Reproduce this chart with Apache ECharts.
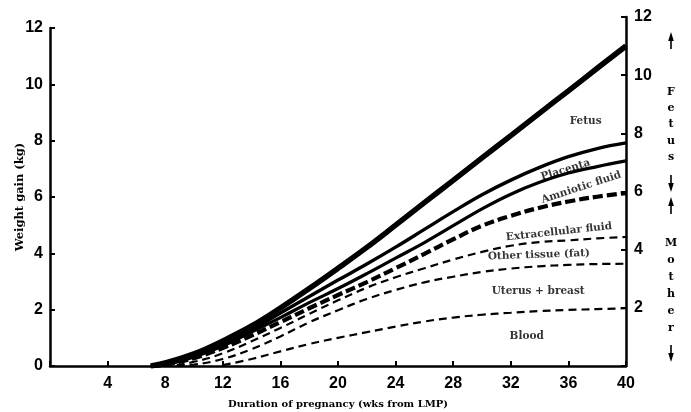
<!DOCTYPE html>
<html>
<head>
<meta charset="utf-8">
<script src="https://cdn.jsdelivr.net/npm/echarts@6/dist/echarts.min.js"></script>
<style>
html,body{margin:0;padding:0;background:#fff;}
#chart{width:691px;height:412px;}
</style>
</head>
<body>
<div id="chart"></div>
<script>
// ---- data (kg) ----
const weeks = [7, 8, 10, 12, 14, 16, 18, 20, 22, 24, 26, 28, 30, 32, 34, 36, 38, 40];
const fetus = [0, 0.11, 0.43, 0.89, 1.42, 2.06, 2.75, 3.47, 4.21, 5.0, 5.8, 6.59, 7.39, 8.18, 8.98, 9.77, 10.57, 11.36];
const placenta = [0, 0.07, 0.36, 0.78, 1.28, 1.88, 2.47, 3.05, 3.62, 4.22, 4.85, 5.48, 6.08, 6.6, 7.05, 7.43, 7.72, 7.92];
const amnioticFluid = [0, 0.04, 0.32, 0.71, 1.21, 1.72, 2.25, 2.75, 3.28, 3.83, 4.38, 4.98, 5.58, 6.1, 6.52, 6.85, 7.08, 7.28];
const extracellularTop = [0, 0.04, 0.28, 0.64, 1.08, 1.56, 2.05, 2.52, 2.98, 3.47, 3.98, 4.5, 4.98, 5.33, 5.62, 5.84, 6.01, 6.14];
const otherTissueTop = [0, 0, 0.15, 0.45, 0.88, 1.35, 1.85, 2.33, 2.78, 3.15, 3.47, 3.78, 4.05, 4.27, 4.4, 4.46, 4.53, 4.58];
const uterusBreastTop = [0, 0, 0.05, 0.25, 0.6, 1.05, 1.55, 1.98, 2.38, 2.7, 2.97, 3.17, 3.34, 3.46, 3.54, 3.59, 3.62, 3.63];
const bloodTop = [null, null, null, 0.03, 0.25, 0.52, 0.78, 1.0, 1.2, 1.4, 1.58, 1.72, 1.82, 1.89, 1.95, 1.99, 2.02, 2.05];

const xTicks = [0, 4, 8, 12, 16, 20, 24, 28, 32, 36, 40];
const leftTicks = [0, 2, 4, 6, 8, 10, 12];
const rightTicks = [2, 4, 6, 8, 10, 12];

const annotationTexts = ['Fetus', 'Placenta', 'Amniotic fluid', 'Extracellular fluid', 'Other tissue (fat)', 'Uterus + breast', 'Blood'];
const annotationWeeks = [37.2, 35.8, 36.9, 35.35, 33.95, 33.9, 33.1];
const annotationKg = [8.7, 6.96, 6.34, 4.76, 3.94, 2.67, 1.06];
const annotationAngles = [0, 17, 18, 6, 2, 0, 0];

// ---- chart ----
const pair = arr => weeks.map((w, i) => arr[i] == null ? null : [w, arr[i]]).filter(d => d);
const ink = '#000';
const tickFont = {fontFamily: 'Liberation Sans', fontWeight: 'bold', fontSize: 16, color: ink};

function lineSeries(name, arr, width, dash) {
  return {
    name: name, type: 'line', xAxisIndex: 0, yAxisIndex: 0,
    data: pair(arr), smooth: 0.4, showSymbol: false, symbol: 'none',
    lineStyle: {color: ink, width: width, type: dash || 'solid', cap: 'butt'},
    emphasis: {disabled: true}, silent: true
  };
}

const chart = echarts.init(document.getElementById('chart'), null, {renderer: 'canvas'});

const arrow = (x, yTip, dir) => {
  const base = yTip + 9 * dir;
  return [
    {type: 'line', shape: {x1: x, y1: base, x2: x, y2: yTip + 17 * dir}, style: {stroke: ink, lineWidth: 1.6}},
    {type: 'polygon', shape: {points: [[x, yTip], [x - 2.8, base], [x + 2.8, base]]}, style: {fill: ink}}
  ];
};

chart.setOption({
  animation: false,
  backgroundColor: '#fff',
  grid: [
    {left: 50, right: 65, top: 28, bottom: 46, containLabel: false, outerBoundsMode: 'none'},
    {left: 50, right: 65, top: 17, bottom: 46, containLabel: false, outerBoundsMode: 'none'}
  ],
  xAxis: [
    {
      type: 'value', gridIndex: 0, min: xTicks[0], max: xTicks[xTicks.length - 1], interval: 4,
      axisLine: {onZero: false, lineStyle: {color: ink, width: 2.5}},
      axisTick: {inside: true, length: 5, lineStyle: {color: ink, width: 2}},
      axisLabel: Object.assign({margin: 10, formatter: v => v === 0 ? '' : String(v)}, tickFont),
      splitLine: {show: false},
      name: 'Duration of pregnancy (wks from LMP)', nameLocation: 'middle', nameGap: 33, nameMoveOverlap: false,
      nameTextStyle: {fontFamily: 'DejaVu Serif', fontWeight: 'bold', fontSize: 10, color: ink}
    },
    {type: 'value', gridIndex: 1, min: 0, max: 40, show: false}
  ],
  yAxis: [
    {
      type: 'value', gridIndex: 0, min: leftTicks[0], max: leftTicks[leftTicks.length - 1], interval: 2,
      axisLine: {show: true, onZero: false, lineStyle: {color: ink, width: 2.5}},
      axisTick: {show: true, inside: true, length: 5, lineStyle: {color: ink, width: 2}},
      axisLabel: Object.assign({margin: 7}, tickFont),
      splitLine: {show: false},
      name: 'Weight gain (kg)', nameLocation: 'middle', nameGap: 24, nameMoveOverlap: false,
      nameTextStyle: {fontFamily: 'DejaVu Serif', fontWeight: 'bold', fontSize: 11.5, color: ink}
    },
    {
      type: 'value', gridIndex: 1, position: 'right', min: 0, max: rightTicks[rightTicks.length - 1], interval: 2,
      axisLine: {show: true, onZero: false, lineStyle: {color: ink, width: 2.5}},
      axisTick: {show: true, inside: true, length: 5, lineStyle: {color: ink, width: 2}},
      axisLabel: Object.assign({margin: 8, formatter: v => rightTicks.indexOf(v) >= 0 ? String(v) : ''}, tickFont),
      splitLine: {show: false}
    }
  ],
  series: [
    lineSeries('Blood', bloodTop, 2.2, [8, 5]),
    lineSeries('Uterus + breast', uterusBreastTop, 2.2, [8, 5]),
    lineSeries('Other tissue', otherTissueTop, 2.2, [8, 5]),
    lineSeries('Extracellular fluid', extracellularTop, 4.2, [10, 4]),
    lineSeries('Amniotic fluid', amnioticFluid, 3.2),
    lineSeries('Placenta', placenta, 3.4),
    lineSeries('Fetus', fetus, 5.5),
    {
      type: 'scatter', xAxisIndex: 0, yAxisIndex: 0, symbolSize: 0, silent: true,
      data: annotationTexts.map((t, i) => ({
        value: [annotationWeeks[i], annotationKg[i]],
        label: {show: true, position: 'inside', formatter: t, rotate: annotationAngles[i],
                fontFamily: 'DejaVu Serif', fontWeight: 'bold', fontSize: 10.5, color: ink}
      }))
    }
  ],
  graphic: [
    ...arrow(671, 32, 1),
    {type: 'text', style: {text: 'F\ne\nt\nu\ns', x: 671, y: 124.5, align: 'center', verticalAlign: 'middle', lineHeight: 16.3,
      font: 'bold 11px "DejaVu Serif"', fill: ink}},
    ...arrow(671, 192, -1),
    ...arrow(671, 197, 1),
    {type: 'text', style: {text: 'M\no\nt\nh\ne\nr', x: 671, y: 285.5, align: 'center', verticalAlign: 'middle', lineHeight: 17,
      font: 'bold 11px "DejaVu Serif"', fill: ink}},
    ...arrow(671, 362, -1)
  ]
});
</script>
</body>
</html>
